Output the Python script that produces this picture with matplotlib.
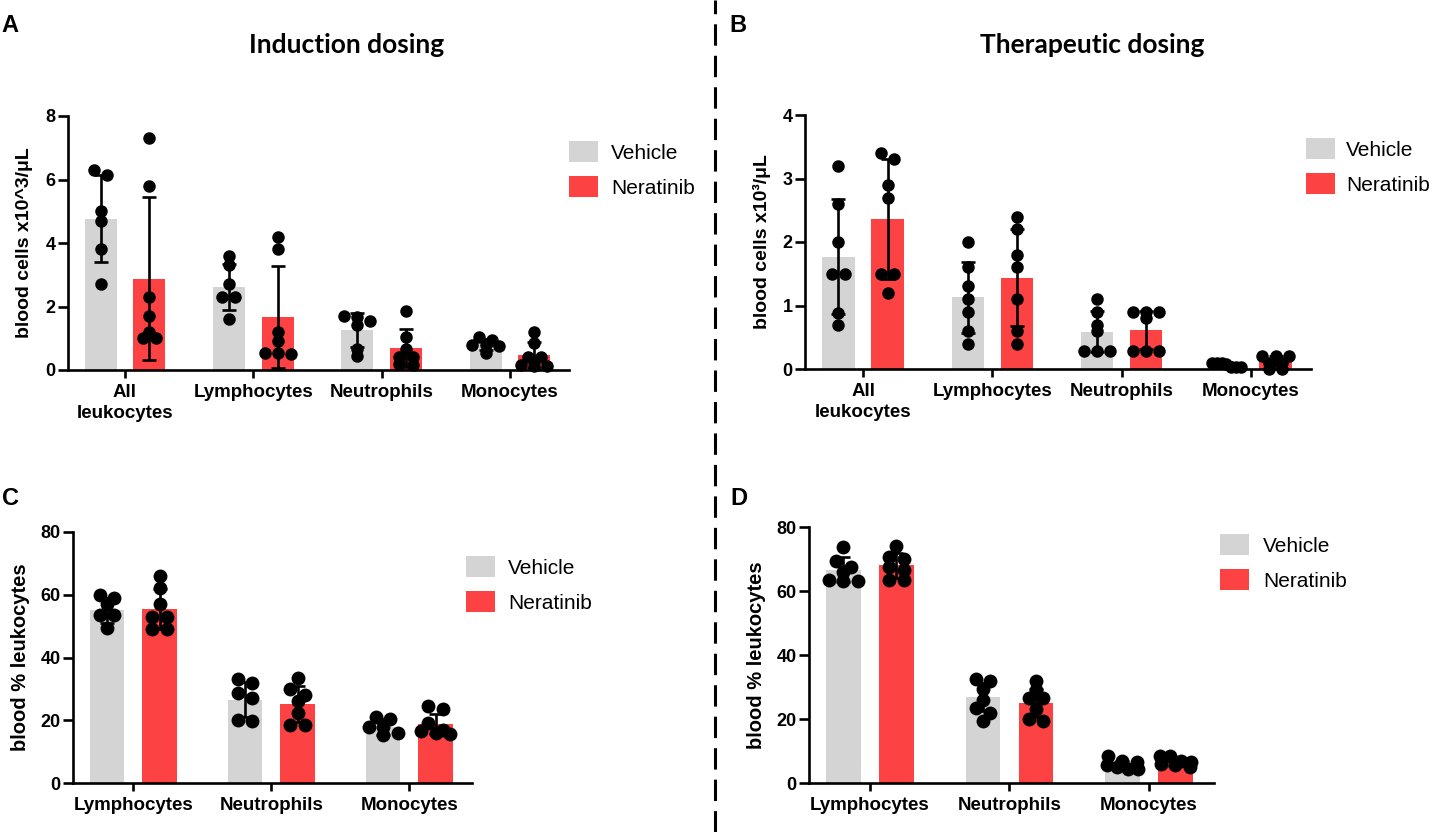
import numpy as np
import matplotlib
matplotlib.use("Agg")
import matplotlib.pyplot as plt
from matplotlib.patches import Rectangle
from matplotlib.lines import Line2D

# ---------------- data ----------------
groups_top = ["All\nleukocytes", "Lymphocytes", "Neutrophils", "Monocytes"]
groups_bottom = ["Lymphocytes", "Neutrophils", "Monocytes"]
series_names = ["Vehicle", "Neratinib"]

# Panel A: induction dosing, blood cells x10^3/uL
A_vehicle_mean = [4.77, 2.62, 1.25, 0.81]
A_vehicle_sd = [1.37, 0.73, 0.54, 0.17]
A_neratinib_mean = [2.88, 1.67, 0.68, 0.47]
A_neratinib_sd = [2.57, 1.62, 0.60, 0.40]
A_vehicle_pts = [[6.3, 6.15, 5.0, 4.7, 3.8, 2.7],
                 [3.6, 3.3, 2.7, 2.3, 2.3, 1.6],
                 [1.71, 1.66, 1.55, 1.43, 0.66, 0.45],
                 [1.05, 0.95, 0.80, 0.78, 0.75, 0.55]]
A_neratinib_pts = [[7.3, 5.8, 2.3, 1.7, 1.2, 1.0, 1.0],
                   [4.2, 3.8, 1.2, 0.9, 0.55, 0.55, 0.5],
                   [1.85, 1.05, 0.65, 0.42, 0.40, 0.18, 0.15],
                   [1.2, 0.85, 0.40, 0.40, 0.15, 0.14, 0.13]]

# Panel B: therapeutic dosing, blood cells x10^3/uL
B_vehicle_mean = [1.77, 1.13, 0.59, 0.07]
B_vehicle_sd = [0.90, 0.56, 0.33, 0.04]
B_neratinib_mean = [2.36, 1.44, 0.62, 0.12]
B_neratinib_sd = [0.94, 0.77, 0.30, 0.08]
B_vehicle_pts = [[3.2, 2.6, 2.0, 1.5, 1.5, 0.88, 0.69],
                 [2.0, 1.6, 1.3, 1.1, 0.9, 0.6, 0.4],
                 [1.1, 0.9, 0.7, 0.6, 0.28, 0.28, 0.28],
                 [0.10, 0.10, 0.10, 0.08, 0.03, 0.03, 0.03]]
B_neratinib_pts = [[3.4, 3.31, 2.9, 2.7, 1.5, 1.5, 1.2],
                   [2.4, 2.2, 1.8, 1.6, 1.1, 0.6, 0.4],
                   [0.9, 0.9, 0.9, 0.8, 0.28, 0.28, 0.28],
                   [0.20, 0.20, 0.20, 0.10, 0.10, 0.0, 0.0]]

# Panel C: induction dosing, % leukocytes
C_vehicle_mean = [55.0, 26.6, 17.8]
C_vehicle_sd = [4.1, 5.6, 2.6]
C_neratinib_mean = [55.5, 25.3, 18.8]
C_neratinib_sd = [6.45, 5.7, 3.2]
C_vehicle_pts = [[60, 59, 57, 53.5, 53.5, 49.5],
                 [33, 32, 28.8, 27, 20, 19.7],
                 [21, 20.5, 18, 17.7, 15.9, 15.2]]
C_neratinib_pts = [[66, 62, 57, 53, 53, 49, 49],
                   [33.5, 30, 28, 26, 22.3, 18.6, 18.6],
                   [24.5, 23.5, 19, 17, 16.5, 16, 15.5]]

# Panel D: therapeutic dosing, % leukocytes
D_vehicle_mean = [66.7, 27.0, 5.5]
D_vehicle_sd = [3.8, 4.4, 1.3]
D_neratinib_mean = [68.0, 25.0, 6.5]
D_neratinib_sd = [3.9, 4.4, 1.2]
D_vehicle_pts = [[73.6, 69.5, 67.5, 66, 63.5, 63, 63],
                 [32.5, 32, 29.5, 26, 23.5, 22, 19.5],
                 [8.5, 7, 6.5, 5.5, 5, 4.5, 4.5]]
D_neratinib_pts = [[74, 70.5, 70, 67.5, 66.5, 63.5, 63.5],
                   [32, 29, 26.5, 26.5, 23, 20, 19.5],
                   [8.5, 8.5, 7, 6.5, 6, 5.5, 5]]

# ---------------- style ----------------
W, H = 1429, 832
DPI = 100
GRAY = "#D4D4D4"
RED = "#FC4242"
FONT = "Liberation Sans"
plt.rcParams["font.family"] = [FONT, "DejaVu Sans"]

fig = plt.figure(figsize=(W / DPI, H / DPI), dpi=DPI)


def fx(px):
    return px / W


def fy(py):
    return 1 - py / H


def swarm_offsets(vals, ppy, ppx, d):
    """Row-based scatter spreading (like column scatter plots): points whose
    values fall within half a symbol of a row's first point share that row and
    are spread symmetrically; wide rows are compressed."""
    order = sorted(range(len(vals)), key=lambda i: -vals[i])
    rows = []
    for i in order:
        if rows and (vals[rows[-1][0]] - vals[i]) * ppy <= 0.5 * d:
            rows[-1].append(i)
        else:
            rows.append([i])
    offs = [0.0] * len(vals)
    for row in rows:
        n = len(row)
        if n == 1:
            continue
        sp = min(1.05 * d, 2.3 * d / (n - 1))
        for k, i in enumerate(row):
            offs[i] = (k - (n - 1) / 2) * sp / ppx
    return offs


def panel(box, xlim, ylim, yticks, cats, vm, vs, nm, ns, vp, npts, ms):
    l, r, b, t = box
    ax = fig.add_axes([fx(l), fy(b), (r - l) / W, (b - t) / H])
    x = np.arange(len(cats))
    off, bw = 0.19, 0.25
    ax.bar(x - off, vm, width=bw, color=GRAY, zorder=1)
    ax.bar(x + off, nm, width=bw, color=RED, zorder=1)
    ax.errorbar(x - off, vm, yerr=vs, fmt="none", ecolor="black",
                elinewidth=1.9, capsize=5, capthick=1.9, zorder=3, clip_on=False)
    ax.errorbar(x + off, nm, yerr=ns, fmt="none", ecolor="black",
                elinewidth=1.9, capsize=5, capthick=1.9, zorder=3, clip_on=False)
    ax.set_xlim(*xlim)
    ax.set_ylim(*ylim)
    ppx = (r - l) / (xlim[1] - xlim[0])
    ppy = (b - t) / (ylim[1] - ylim[0])
    dpx = ms / 0.72
    for i in range(len(cats)):
        for center, pts in ((x[i] - off, vp[i]), (x[i] + off, npts[i])):
            o = swarm_offsets(pts, ppy, ppx, dpx)
            ax.plot([center + oo for oo in o], pts, "o", color="black",
                    ms=ms, mew=0, zorder=4, clip_on=False)
    for s in ("top", "right"):
        ax.spines[s].set_visible(False)
    for s in ("left", "bottom"):
        ax.spines[s].set_linewidth(1.9)
    ax.set_yticks(yticks)
    ax.set_yticklabels([str(v) for v in yticks], fontweight="bold", fontsize=13)
    ax.set_xticks(x)
    ax.set_xticklabels(cats, fontweight="bold", fontsize=13.5, linespacing=1.35)
    ax.tick_params(axis="y", length=7, width=1.9, pad=2)
    ax.tick_params(axis="x", length=6, width=1.9, pad=4)
    return ax


def legend(px, gy, ry, tx):
    for y0, c, name in ((gy, GRAY, series_names[0]), (ry, RED, series_names[1])):
        fig.add_artist(Rectangle((fx(px), fy(y0 + 21)), 29 / W, 21 / H,
                                 transform=fig.transFigure, color=c, lw=0))
        fig.text(fx(tx), fy(y0 + 10.5), name, fontsize=15, ha="left",
                 va="center_baseline", family=FONT)


# Panel A
panel((68, 569, 370, 116), (-0.444, 3.46), (0, 8), [0, 2, 4, 6, 8], groups_top,
      A_vehicle_mean, A_vehicle_sd, A_neratinib_mean, A_neratinib_sd,
      A_vehicle_pts, A_neratinib_pts, 9)
# Panel B
panel((805, 1311, 369, 115), (-0.449, 3.464), (0, 4), [0, 1, 2, 3, 4], groups_top,
      B_vehicle_mean, B_vehicle_sd, B_neratinib_mean, B_neratinib_sd,
      B_vehicle_pts, B_neratinib_pts, 9)
# Panel C
panel((73, 472, 783, 532), (-0.437, 2.454), (0, 80), [0, 20, 40, 60, 80], groups_bottom,
      C_vehicle_mean, C_vehicle_sd, C_neratinib_mean, C_neratinib_sd,
      C_vehicle_pts, C_neratinib_pts, 10)
# Panel D
panel((809, 1214, 783, 527), (-0.437, 2.466), (0, 80), [0, 20, 40, 60, 80], groups_bottom,
      D_vehicle_mean, D_vehicle_sd, D_neratinib_mean, D_neratinib_sd,
      D_vehicle_pts, D_neratinib_pts, 10)

# y labels
fig.text(fx(25), fy(243), "blood cells x10^3/\u03bcL", rotation=90, ha="center",
         va="center", fontsize=14, fontweight="bold")
fig.text(fx(762), fy(242), "blood cells x10\u00b3/\u03bcL", rotation=90, ha="center",
         va="center", fontsize=14, fontweight="bold")
fig.text(fx(21), fy(657), "blood % leukocytes", rotation=90, ha="center",
         va="center", fontsize=14.5, fontweight="bold")
fig.text(fx(756), fy(655), "blood % leukocytes", rotation=90, ha="center",
         va="center", fontsize=14.5, fontweight="bold")

# legends
legend(569, 141, 176, 611)
legend(1306, 138, 173, 1346)
legend(466, 556, 591, 508)
legend(1220, 534, 569, 1263)

# titles
fig.text(fx(347), fy(45), "Induction dosing", ha="center", va="center",
         fontsize=19, fontweight="bold", family=["Lato", "DejaVu Sans"])
fig.text(fx(1092), fy(45), "Therapeutic dosing", ha="center", va="center",
         fontsize=19, fontweight="bold", family=["Lato", "DejaVu Sans"])

# panel letters
for lab, x0, y0 in (("A", 1, 14), ("B", 729, 14), ("C", 2, 487), ("D", 730, 487)):
    fig.text(fx(x0), fy(y0), lab, ha="left", va="top", fontsize=17, fontweight="bold")

# dashed divider
fig.add_artist(Line2D([fx(715), fx(715)], [0, 1], transform=fig.transFigure,
                      color="black", lw=2.2, linestyle=(0, (7, 3.3))))

fig.savefig("out.png", dpi=DPI)
